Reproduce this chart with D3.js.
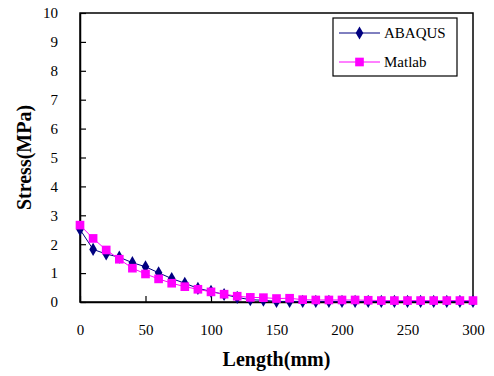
<!DOCTYPE html>
<html>
<head>
<meta charset="utf-8">
<script src="https://cdn.jsdelivr.net/npm/d3@7/dist/d3.min.js"></script>
<style>
    body { margin: 0; background: #fff; }
    svg { display: block; }
</style>
</head>
<body>
<div id="chart"></div>
<script>
// data
const lengths = [0, 10, 20, 30, 40, 50, 60, 70, 80, 90, 100, 110, 120, 130, 140, 150,
    160, 170, 180, 190, 200, 210, 220, 230, 240, 250, 260, 270, 280, 290, 300];
const abaqus = [2.51, 1.82, 1.66, 1.55, 1.36, 1.22, 1.01, 0.81, 0.65, 0.47, 0.37, 0.26, 0.16, 0.08, 0.06, 0.02,
    0.02, 0.02, 0.02, 0.02, 0.02, 0.02, 0.02, 0.02, 0.02, 0.02, 0.02, 0.02, 0.02, 0.02, 0.02];
const matlab = [2.66, 2.2, 1.8, 1.48, 1.17, 0.97, 0.8, 0.65, 0.53, 0.44, 0.35, 0.27, 0.2, 0.16, 0.15, 0.12,
    0.13, 0.08, 0.07, 0.07, 0.07, 0.07, 0.06, 0.05, 0.05, 0.05, 0.05, 0.05, 0.05, 0.05, 0.05];
const xTicks = [0, 50, 100, 150, 200, 250, 300];
const yTicks = [0, 1, 2, 3, 4, 5, 6, 7, 8, 9, 10];
const seriesNames = ["ABAQUS", "Matlab"];
const seriesColors = ["#000080", "#FF00FF"];

const FONT = "'Liberation Serif', 'DejaVu Serif', 'Times New Roman', serif";
const width = 494, height = 376;
const margin = { left: 80, right: 21, top: 13, bottom: 74 };

const svg = d3.select("#chart").append("svg")
    .attr("width", width)
    .attr("height", height)
    .style("font-family", FONT);

const x = d3.scaleLinear().domain([0, 300]).range([margin.left, width - margin.right]);
const y = d3.scaleLinear().domain([0, 10]).range([height - margin.bottom, margin.top]);

// plot frame
svg.append("rect")
    .attr("x", x(0)).attr("y", y(10))
    .attr("width", x(300) - x(0)).attr("height", y(0) - y(10))
    .attr("fill", "none").attr("stroke", "#000").attr("stroke-width", 1.5);

// axes, ticks pointing inside
const xAxis = svg.append("g")
    .attr("transform", "translate(0," + y(0) + ")")
    .call(d3.axisBottom(x).tickValues(xTicks).tickSizeInner(-6).tickSizeOuter(0).tickPadding(22));
const yAxis = svg.append("g")
    .attr("transform", "translate(" + x(0) + ",0)")
    .call(d3.axisLeft(y).tickValues(yTicks).tickSizeInner(-6).tickSizeOuter(0).tickPadding(22));

[xAxis, yAxis].forEach(g => {
    g.attr("font-family", null);
    g.select(".domain").attr("stroke", "#000").attr("stroke-width", 1.5);
    g.selectAll(".tick line").attr("stroke", "#000").attr("stroke-width", 1.2);
    g.selectAll(".tick text")
        .style("font-family", FONT)
        .attr("font-size", 15)
        .attr("fill", "#000");
});

// axis titles
svg.append("text")
    .attr("x", (x(0) + x(300)) / 2)
    .attr("y", 366)
    .attr("text-anchor", "middle")
    .attr("font-size", 20)
    .attr("font-weight", "bold")
    .text("Length(mm)");

svg.append("text")
    .attr("transform", "translate(31," + (y(0) + y(10)) / 2 + ") rotate(-90)")
    .attr("text-anchor", "middle")
    .attr("font-size", 20)
    .attr("font-weight", "bold")
    .text("Stress(MPa)");

const line = d3.line()
    .x((d, i) => x(lengths[i]))
    .y(d => y(d));

const allSeries = [abaqus, matlab];
const diamond = d3.symbol().type(d3.symbolDiamond).size(50);
const square = d3.symbol().type(d3.symbolSquare).size(75);

allSeries.forEach((vals, s) => {
    const g = svg.append("g");
    g.append("path")
        .datum(vals)
        .attr("d", line)
        .attr("fill", "none")
        .attr("stroke", seriesColors[s])
        .attr("stroke-width", 1);
    g.selectAll("path.mark")
        .data(vals)
        .enter().append("path")
        .attr("class", "mark")
        .attr("transform", (d, i) => "translate(" + x(lengths[i]) + "," + y(d) + ")")
        .attr("d", s === 0 ? diamond : square)
        .attr("fill", seriesColors[s]);
});

// legend
const legend = svg.append("g").attr("transform", "translate(333,18)");
legend.append("rect")
    .attr("width", 124).attr("height", 58)
    .attr("fill", "#fff").attr("stroke", "#000").attr("stroke-width", 1.2);

seriesNames.forEach((name, i) => {
    const ly = 15 + i * 29;
    legend.append("line")
        .attr("x1", 6).attr("x2", 47).attr("y1", ly).attr("y2", ly)
        .attr("stroke", seriesColors[i]).attr("stroke-width", 1);
    legend.append("path")
        .attr("transform", "translate(26.5," + ly + ")")
        .attr("d", i === 0 ? diamond : square)
        .attr("fill", seriesColors[i]);
    legend.append("text")
        .attr("x", 51).attr("y", ly + 5)
        .attr("font-size", 15)
        .text(name);
});
</script>
</body>
</html>
